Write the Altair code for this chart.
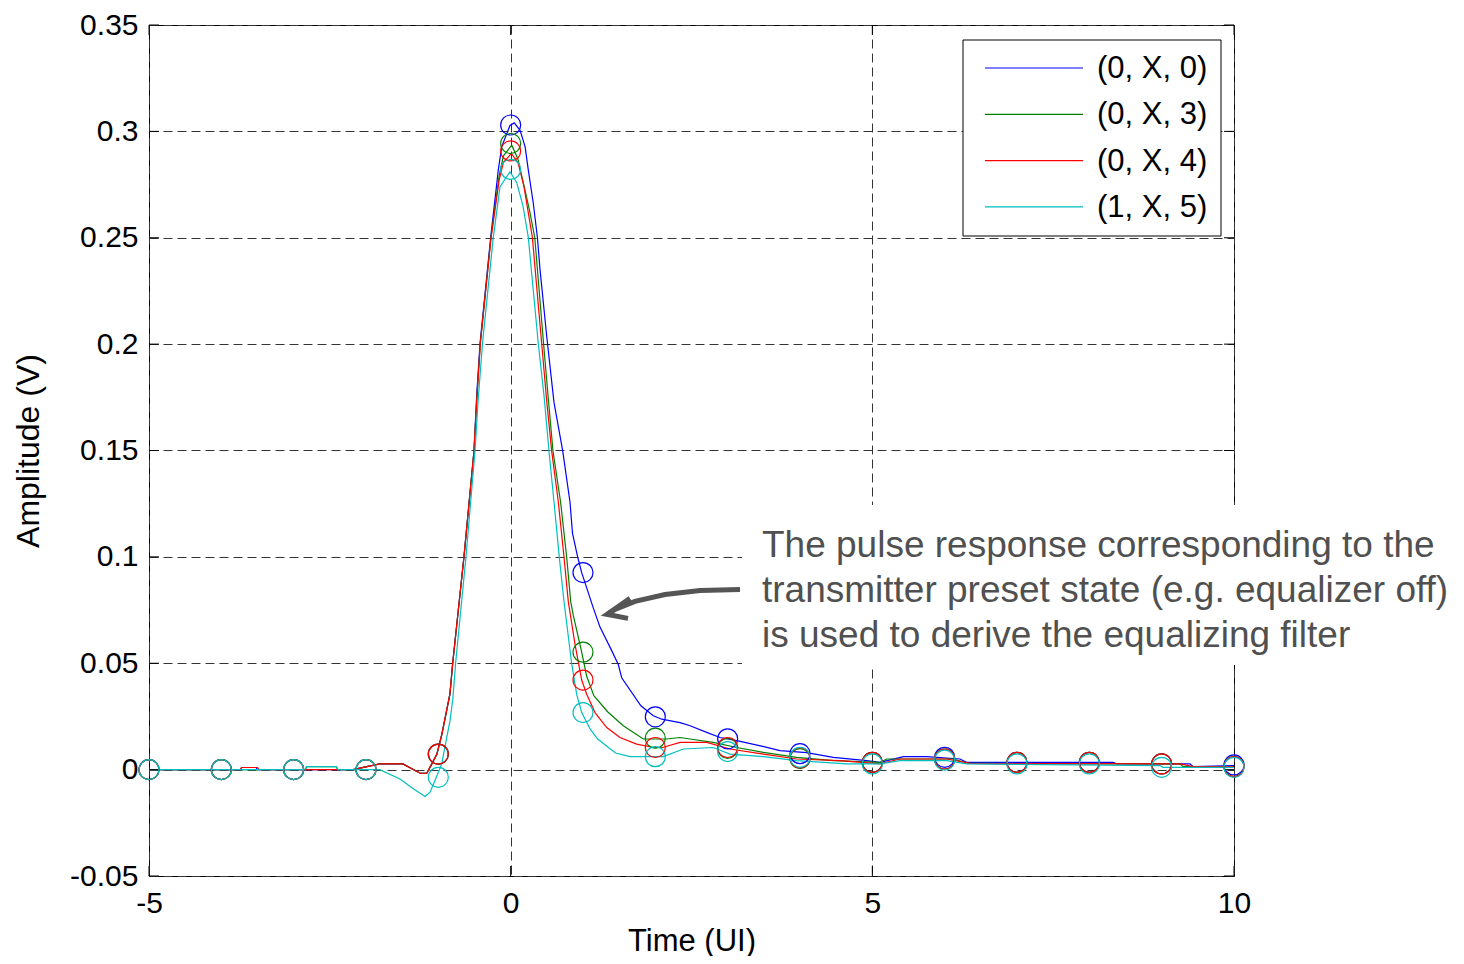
import altair as alt
import pandas as pd

SERIES = ["(0, X, 0)", "(0, X, 3)", "(0, X, 4)", "(1, X, 5)"]
COLORS = ["#0000ff", "#008000", "#ff0000", "#00bfbf"]

X_TICKS = [-5, 0, 5, 10]
Y_TICKS = [-0.05, 0, 0.05, 0.1, 0.15, 0.2, 0.25, 0.3, 0.35]

# pulse responses (time in UI, amplitude in V)
BLUE = [(-5, 0), (-3.74, 0), (-3.72, 0.001), (-3.52, 0.001), (-3.50, 0), (-2.18, 0),
        (-1.81, 0.0027), (-1.49, 0.0027), (-1.25, -0.0017), (-1.16, -0.0017), (-1.09, 0.0027),
        (-1.02, 0.0073), (-0.95, 0.0168), (-0.84, 0.0355), (-0.80, 0.0505), (-0.645, 0.1003),
        (-0.507, 0.1497), (-0.47, 0.1758), (-0.424, 0.2002), (-0.276, 0.2503), (-0.171, 0.2818),
        (-0.124, 0.2927), (-0.01, 0.3028), (0.05, 0.304), (0.13, 0.3005), (0.20, 0.2927),
        (0.244, 0.2818), (0.313, 0.2662), (0.37, 0.25), (0.406, 0.235), (0.498, 0.2038),
        (0.599, 0.1726), (0.72, 0.1497), (0.82, 0.1258), (0.855, 0.111), (0.926, 0.1),
        (0.982, 0.0926), (1.142, 0.076), (1.235, 0.067), (1.40, 0.0557), (1.488, 0.0494),
        (1.535, 0.0432), (1.80, 0.030), (1.972, 0.0253), (2.088, 0.0237), (2.341, 0.0221),
        (2.48, 0.0206), (2.71, 0.0175), (2.894, 0.0151), (3.125, 0.0136), (3.50, 0.0108),
        (3.723, 0.0089), (4.093, 0.008), (4.46, 0.0058), (4.922, 0.0042), (5.106, 0.0034),
        (5.43, 0.0061), (5.75, 0.0061), (6.21, 0.005), (6.305, 0.0034), (8.33, 0.0034),
        (8.378, 0.0027), (9.392, 0.0027), (9.437, 0.0014), (10, 0.0019)]

GREEN = [(-5, 0), (-2.84, 0), (-2.82, 0.0014), (-2.41, 0.0014), (-2.39, 0), (-2.18, 0),
         (-1.81, 0.0027), (-1.49, 0.0027), (-1.25, -0.0017), (-1.16, -0.0017), (-1.09, 0.0027),
         (-1.02, 0.0073), (-0.95, 0.0168), (-0.84, 0.0355), (-0.80, 0.0505), (-0.645, 0.1003),
         (-0.507, 0.1497), (-0.465, 0.1758), (-0.42, 0.2002), (-0.272, 0.2503), (-0.16, 0.279),
         (-0.10, 0.2885), (0.015, 0.2935), (0.10, 0.287), (0.20, 0.272), (0.26, 0.263),
         (0.333, 0.2502), (0.455, 0.2002), (0.52, 0.1745), (0.585, 0.1497), (0.69, 0.1258),
         (0.774, 0.1), (0.83, 0.079), (0.866, 0.0725), (0.982, 0.0552), (1.05, 0.044),
         (1.15, 0.0348), (1.34, 0.0272), (1.557, 0.0206), (1.834, 0.0144), (2.157, 0.0144),
         (2.341, 0.0151), (2.479, 0.0144), (2.801, 0.0128), (3.125, 0.0104), (3.493, 0.0081),
         (3.954, 0.0058), (4.46, 0.0042), (5.106, 0.0034), (5.2, 0.005), (6.119, 0.005),
         (6.33, 0.0029), (9.253, 0.0027), (9.295, 0.0014), (10, 0.0014)]

RED = [(-5, 0), (-3.74, 0), (-3.72, 0.001), (-3.50, 0.001), (-3.48, 0), (-2.18, 0),
       (-1.81, 0.0027), (-1.49, 0.0027), (-1.25, -0.0017), (-1.16, -0.0017), (-1.09, 0.0027),
       (-1.02, 0.0073), (-0.95, 0.0168), (-0.84, 0.0355), (-0.80, 0.0505), (-0.645, 0.1003),
       (-0.507, 0.1497), (-0.465, 0.1758), (-0.42, 0.2002), (-0.27, 0.2503), (-0.16, 0.277),
       (-0.10, 0.2855), (0.01, 0.2896), (0.106, 0.2849), (0.184, 0.274), (0.30, 0.2502),
       (0.429, 0.2002), (0.50, 0.1726), (0.567, 0.1497), (0.659, 0.1258), (0.737, 0.1),
       (0.797, 0.079), (0.889, 0.059), (0.982, 0.0421), (1.051, 0.0354), (1.166, 0.0268),
       (1.328, 0.0198), (1.511, 0.0151), (1.742, 0.012), (1.972, 0.0104), (2.10, 0.0104),
       (2.341, 0.0128), (2.71, 0.0128), (3.032, 0.0097), (3.493, 0.0073), (3.954, 0.005),
       (4.553, 0.0042), (5.106, 0.0027), (5.382, 0.005), (6.028, 0.005), (6.35, 0.0029),
       (9.253, 0.0027), (9.437, 0.0014), (10, 0.0014)]

CYAN = [(-5, 0), (-2.84, 0), (-2.82, 0.0014), (-2.41, 0.0014), (-2.39, 0), (-1.81, 0),
        (-1.53, -0.0044), (-1.346, -0.009), (-1.184, -0.0126), (-1.115, -0.0106),
        (-1.046, -0.0051), (-0.953, 0.0027), (-0.884, 0.015), (-0.839, 0.0229), (-0.80, 0.033),
        (-0.76, 0.0505), (-0.617, 0.1003), (-0.493, 0.1497), (-0.452, 0.1726), (-0.39, 0.2002),
        (-0.24, 0.2503), (-0.147, 0.274), (-0.01, 0.281), (0.083, 0.276), (0.17, 0.265),
        (0.244, 0.2502), (0.382, 0.2002), (0.461, 0.1758), (0.53, 0.1497), (0.599, 0.1258),
        (0.672, 0.1), (0.737, 0.079), (0.843, 0.05), (0.913, 0.0354), (0.982, 0.0268),
        (1.10, 0.019), (1.20, 0.0145), (1.33, 0.011), (1.45, 0.0078), (1.65, 0.0061),
        (2.11, 0.0061), (2.387, 0.0097), (2.801, 0.0104), (3.032, 0.0073), (3.493, 0.0061),
        (3.954, 0.0042), (4.646, 0.0027), (5.106, 0.0027), (5.382, 0.0042), (6.028, 0.0042),
        (6.305, 0.0027), (8.977, 0.0019), (9.018, 0.0011), (10, 0.0011)]

# sampled values at integer UI (circle markers)
MARK_T = [-5, -4, -3, -2, -1, 0, 1, 2, 3, 4, 5, 6, 7, 8, 9, 10]
BLUE_M = [0, 0, 0, 0, 0.0073, 0.303, 0.0926, 0.0248, 0.0145, 0.0075, 0.0034, 0.0058, 0.0034, 0.0034, 0.0027, 0.0022]
GREEN_M = [0, 0, 0, 0, 0.0073, 0.2943, 0.0552, 0.0148, 0.0100, 0.0052, 0.0034, 0.005, 0.0034, 0.0034, 0.0027, 0.0014]
RED_M = [0, 0, 0, 0, 0.0073, 0.2908, 0.0421, 0.0104, 0.0104, 0.0055, 0.0034, 0.005, 0.0034, 0.0034, 0.0027, 0.0014]
CYAN_M = [0, 0, 0, 0, -0.0036, 0.2821, 0.0268, 0.0061, 0.0085, 0.0058, 0.0027, 0.0045, 0.0027, 0.0027, 0.0011, 0.0011]

# annotation
ANNOT_LINES = ["The pulse response corresponding to the",
               "transmitter preset state (e.g. equalizer off)",
               "is used to derive the equalizing filter"]
ARROW_SHAFT = [(3.171, 0.0847), (2.618, 0.0842), (2.134, 0.0823), (1.719, 0.0791),
               (1.442, 0.0753), (1.34, 0.0731)]
ARROW_HEAD = [(1.650, 0.0805), (1.332, 0.0730), (1.622, 0.0711)]

FONT = "Liberation Sans"
TOP = 17
W, H = 1085, 851
TICK = 10

rows = []
for name, pts in zip(SERIES, [BLUE, GREEN, RED, CYAN]):
    for i, (t, v) in enumerate(pts):
        rows.append({"series": name, "t": t, "v": v, "i": i})
lines_df = pd.DataFrame(rows)

mrows = []
for name, vals in zip(SERIES, [BLUE_M, GREEN_M, RED_M, CYAN_M]):
    for t, v in zip(MARK_T, vals):
        mrows.append({"series": name, "t": t, "v": v})
marks_df = pd.DataFrame(mrows)

shaft_df = pd.DataFrame([{"t": t, "v": v, "i": i} for i, (t, v) in enumerate(ARROW_SHAFT)])
head_df = pd.DataFrame([{"t": t, "v": v, "i": i} for i, (t, v) in enumerate(ARROW_HEAD)])
xt_df = pd.DataFrame({"t": X_TICKS})
yt_df = pd.DataFrame({"v": Y_TICKS})
one = pd.DataFrame({"k": [0]})

xscale = alt.Scale(domain=[-5, 10], nice=False, zero=False)
yscale = alt.Scale(domain=[-0.05, 0.35], nice=False, zero=False)
color = alt.Color("series:N", scale=alt.Scale(domain=SERIES, range=COLORS), legend=None)

x_axis = alt.Axis(values=X_TICKS, title="Time (UI)",
                  labelExpr="replace(format(datum.value, 'd'), '\u2212', '-')",
                  labelPadding=12, titlePadding=8, titleFontSize=31, labelFlush=False)
y_axis = alt.Axis(values=Y_TICKS, title="Amplitude (V)",
                  labelExpr="replace(format(datum.value, '.2~f'), '\u2212', '-')",
                  labelPadding=11, titlePadding=24, titleFontSize=32, labelFlush=False)

dy = 21 - (8 + TOP)  # shift of pixel-placed annotations relative to plot top

# inward MATLAB-style ticks on all four sides
tick_layers = [
    alt.Chart(xt_df).mark_rule(color="black", strokeWidth=1).encode(
        x=alt.X("t:Q", scale=xscale), y=alt.value(H), y2=alt.value(H - TICK)),
    alt.Chart(xt_df).mark_rule(color="black", strokeWidth=1).encode(
        x=alt.X("t:Q", scale=xscale), y=alt.value(0), y2=alt.value(TICK)),
    alt.Chart(yt_df).mark_rule(color="black", strokeWidth=1).encode(
        y=alt.Y("v:Q", scale=yscale), x=alt.value(0), x2=alt.value(TICK)),
    alt.Chart(yt_df).mark_rule(color="black", strokeWidth=1).encode(
        y=alt.Y("v:Q", scale=yscale), x=alt.value(W - TICK), x2=alt.value(W)),
]

box = alt.Chart(one).mark_rect(fill="white").encode(
    x=alt.value(593), x2=alt.value(1315), y=alt.value(484 + dy), y2=alt.value(644 + dy))

lines = alt.Chart(lines_df).mark_line(strokeWidth=1.2).encode(
    x=alt.X("t:Q", scale=xscale, axis=x_axis),
    y=alt.Y("v:Q", scale=yscale, axis=y_axis),
    color=color, order="i:Q")

points = alt.Chart(marks_df).mark_point(shape="circle", filled=False, size=400,
                                        strokeWidth=1.2, opacity=1).encode(
    x="t:Q", y="v:Q", color=color)

shaft = alt.Chart(shaft_df).mark_line(strokeWidth=5, color="#555555", strokeCap="butt").encode(
    x="t:Q", y="v:Q", order="i:Q")
head = alt.Chart(head_df).mark_line(strokeWidth=5, color="#555555", strokeJoin="miter",
                                    strokeCap="butt").encode(x="t:Q", y="v:Q", order="i:Q")

annot = alt.Chart(one).mark_text(text=ANNOT_LINES, align="left", baseline="alphabetic",
                                 fontSize=37, lineHeight=45, color="#505050", font=FONT).encode(
    x=alt.value(613), y=alt.value(536 + dy))

# legend
LEG_X0, LEG_X1, LEG_Y0, LEG_Y1 = 814, 1072, 19 + dy, 215 + dy
leg_box = alt.Chart(one).mark_rect(fill="white", stroke="black", strokeWidth=1).encode(
    x=alt.value(LEG_X0), x2=alt.value(LEG_X1), y=alt.value(LEG_Y0), y2=alt.value(LEG_Y1))
leg_layers = [leg_box]
for k, (name, c) in enumerate(zip(SERIES, COLORS)):
    yy = 47 + dy + 46.3 * k
    leg_layers.append(alt.Chart(one).mark_rule(color=c, strokeWidth=1.2).encode(
        x=alt.value(836), x2=alt.value(934), y=alt.value(yy)))
    leg_layers.append(alt.Chart(one).mark_text(text=name, align="left", baseline="middle",
                                               fontSize=31, font=FONT, color="black").encode(
        x=alt.value(948), y=alt.value(yy + 1)))

chart = alt.layer(lines, *tick_layers, box, points, shaft, head, annot, *leg_layers).properties(
    width=W, height=H,
    autosize=alt.AutoSizeParams(type="none"),
    padding={"left": 141, "top": TOP, "right": 220, "bottom": 80},
    background="white",
).configure_view(stroke="black", strokeWidth=1).configure_axis(
    grid=True, gridColor="#333333", gridDash=[9, 5], gridWidth=1,
    ticks=False, tickSize=0, domain=False,
    labelFont=FONT, titleFont=FONT, labelFontSize=30, labelColor="black",
    titleColor="black", titleFontWeight="normal",
)

chart.save("out.html", embed_options={"renderer": "svg", "actions": False})
